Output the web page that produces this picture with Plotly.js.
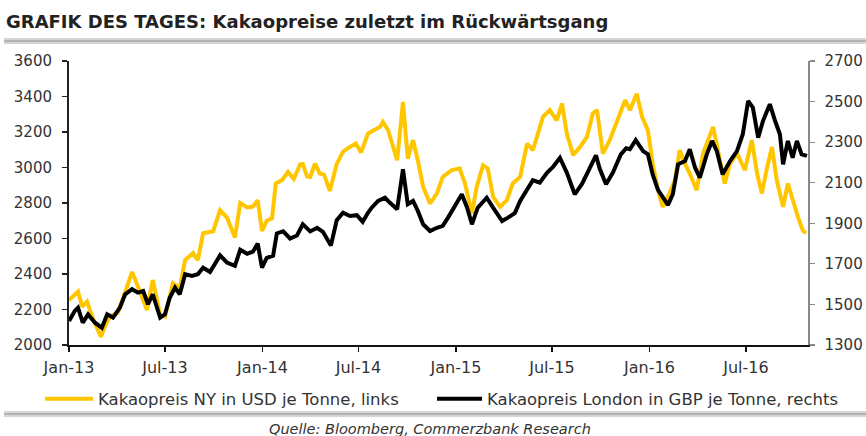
<!DOCTYPE html>
<html>
<head>
<meta charset="utf-8">
<script src="https://cdn.plot.ly/plotly-3.0.1.min.js"></script>
<style>html,body{margin:0;padding:0;background:#fff;}#chart{width:866px;height:436px;}</style>
</head>
<body>
<div id="chart"></div>
<script>
// --- data ---
const titleText = "GRAFIK DES TAGES: Kakaopreise zuletzt im Rückwärtsgang";
const sourceText = "Quelle: Bloomberg, Commerzbank Research";
const nyName = "Kakaopreis NY in USD je Tonne, links";
const ldnName = "Kakaopreis London in GBP je Tonne, rechts";

const nyDates = ['2013-01-01','2013-01-07','2013-01-18','2013-01-26','2013-02-04','2013-02-15','2013-03-02','2013-03-12','2013-03-19','2013-04-03','2013-04-17','2013-04-30','2013-05-15','2013-05-28','2013-06-08','2013-06-22','2013-07-01','2013-07-16','2013-07-29','2013-08-08','2013-08-23','2013-09-01','2013-09-11','2013-09-30','2013-10-13','2013-10-26','2013-11-10','2013-11-20','2013-12-03','2013-12-14','2013-12-23','2013-12-31','2014-01-09','2014-01-19','2014-01-26','2014-02-07','2014-02-18','2014-03-01','2014-03-13','2014-03-18','2014-03-26','2014-04-01','2014-04-10','2014-04-19','2014-04-27','2014-05-08','2014-05-21','2014-06-02','2014-06-15','2014-06-26','2014-07-06','2014-07-19','2014-07-30','2014-08-11','2014-08-16','2014-08-26','2014-09-12','2014-09-23','2014-10-02','2014-10-12','2014-10-21','2014-10-31','2014-11-13','2014-11-26','2014-12-07','2014-12-24','2015-01-08','2015-01-18','2015-01-31','2015-02-09','2015-02-21','2015-03-02','2015-03-12','2015-03-25','2015-04-07','2015-04-18','2015-05-02','2015-05-15','2015-05-26','2015-06-14','2015-06-27','2015-07-10','2015-07-20','2015-07-29','2015-08-10','2015-08-23','2015-09-05','2015-09-16','2015-09-24','2015-10-05','2015-10-18','2015-11-01','2015-11-16','2015-11-25','2015-12-08','2015-12-18','2015-12-29','2016-01-07','2016-01-17','2016-01-26','2016-02-05','2016-02-18','2016-02-27','2016-03-08','2016-03-17','2016-03-30','2016-04-11','2016-04-30','2016-05-09','2016-05-22','2016-06-01','2016-06-14','2016-06-29','2016-07-12','2016-07-22','2016-07-31','2016-08-10','2016-08-19','2016-08-28','2016-09-09','2016-09-18','2016-09-27','2016-10-07','2016-10-16','2016-10-22'];
const nyValues = [2253,2270,2300,2216,2244,2150,2047,2120,2160,2180,2293,2412,2300,2197,2366,2169,2160,2349,2321,2478,2518,2478,2630,2641,2760,2718,2606,2800,2775,2780,2816,2643,2700,2713,2910,2929,2975,2935,3018,3020,2950,2947,3022,2966,2960,2868,3020,3090,3116,3135,3085,3191,3210,3229,3257,3210,3041,3369,3050,3154,3041,2891,2797,2854,2947,2985,2994,2910,2741,2891,3013,2994,2835,2778,2816,2910,2947,3135,3097,3285,3323,3266,3360,3191,3070,3116,3172,3304,3323,3079,3154,3266,3379,3323,3416,3285,3210,3022,2872,2778,2835,2929,3097,3022,2966,2872,3079,3229,3097,2910,3022,3079,2985,3154,2966,2854,3003,3116,2929,2778,2910,2816,2722,2647,2629];

const ldnDates = ['2013-01-01','2013-01-12','2013-01-18','2013-01-27','2013-02-06','2013-02-19','2013-03-04','2013-03-14','2013-03-25','2013-04-07','2013-04-17','2013-04-30','2013-05-11','2013-05-21','2013-05-30','2013-06-08','2013-06-22','2013-07-01','2013-07-10','2013-07-20','2013-07-29','2013-08-08','2013-08-21','2013-09-01','2013-09-11','2013-09-24','2013-10-13','2013-10-26','2013-11-10','2013-11-20','2013-12-03','2013-12-14','2013-12-23','2013-12-31','2014-01-09','2014-01-21','2014-01-28','2014-02-09','2014-02-22','2014-03-07','2014-03-18','2014-04-01','2014-04-14','2014-04-25','2014-05-10','2014-05-21','2014-06-02','2014-06-15','2014-06-28','2014-07-09','2014-07-19','2014-07-26','2014-08-07','2014-08-20','2014-08-29','2014-09-12','2014-09-23','2014-10-02','2014-10-12','2014-10-21','2014-10-31','2014-11-13','2014-11-26','2014-12-07','2014-12-17','2014-12-30','2015-01-12','2015-01-22','2015-01-31','2015-02-11','2015-02-28','2015-03-12','2015-03-29','2015-04-09','2015-04-22','2015-05-02','2015-05-15','2015-05-26','2015-06-08','2015-06-22','2015-07-03','2015-07-16','2015-07-29','2015-08-13','2015-08-27','2015-09-11','2015-09-22','2015-09-29','2015-10-11','2015-10-24','2015-11-08','2015-11-18','2015-11-25','2015-12-06','2015-12-20','2015-12-29','2016-01-07','2016-01-17','2016-01-26','2016-02-05','2016-02-14','2016-02-24','2016-03-08','2016-03-17','2016-03-27','2016-04-05','2016-04-18','2016-04-28','2016-05-07','2016-05-18','2016-06-01','2016-06-14','2016-06-25','2016-07-05','2016-07-14','2016-07-24','2016-08-02','2016-08-15','2016-08-25','2016-09-03','2016-09-09','2016-09-18','2016-09-27','2016-10-05','2016-10-14','2016-10-24'];
const ldnValues = [1418,1468,1484,1410,1451,1410,1385,1451,1435,1484,1550,1575,1558,1566,1501,1550,1435,1451,1533,1583,1550,1649,1641,1649,1681,1660,1742,1706,1690,1770,1750,1760,1800,1681,1730,1740,1850,1860,1825,1840,1895,1860,1878,1858,1790,1915,1952,1936,1940,1907,1952,1977,2010,2026,2002,1969,2166,1994,2010,1961,1895,1862,1878,1887,1928,1985,2043,1977,1895,1977,2026,1977,1911,1928,1950,2010,2070,2112,2100,2150,2178,2223,2150,2043,2095,2180,2235,2170,2092,2150,2240,2270,2265,2310,2256,2240,2141,2065,2030,1990,2043,2191,2207,2265,2174,2125,2240,2306,2256,2141,2207,2256,2339,2503,2470,2322,2404,2487,2404,2339,2191,2306,2223,2306,2240,2232];

const xRange = ['2013-01-01','2016-10-26'];
const leftRange = [2000, 3600];
const rightRange = [1300, 2700];

// --- layout helpers (pixel -> paper) ---
const W = 866, H = 436;
const M = {l: 69, r: 58, t: 61, b: 91};
const PW = W - M.l - M.r, PH = H - M.t - M.b;
const px = v => (v - M.l) / PW;
const py = v => (H - M.b - v) / PH;

const FONT = "DejaVu Sans";
const TXT = "#333333";

const traces = [
  {x: nyDates, y: nyValues, name: nyName, type: 'scatter', mode: 'lines',
   line: {color: '#FFC600', width: 4}, yaxis: 'y', legend: 'legend'},
  {x: ldnDates, y: ldnValues, name: ldnName, type: 'scatter', mode: 'lines',
   line: {color: '#000000', width: 4}, yaxis: 'y2', legend: 'legend2'}
];

const layout = {
  width: W, height: H,
  margin: M,
  paper_bgcolor: '#ffffff', plot_bgcolor: '#ffffff',
  font: {family: FONT, color: TXT, size: 15},
  showlegend: true,
  title: {text: titleText, x: 6 / W, xanchor: 'left', xref: 'container',
          y: 1 - 22 / H, yanchor: 'middle', yref: 'container',
          font: {family: FONT, size: 18, weight: 'bold', color: '#222222'}},
  xaxis: {type: 'date', range: xRange, tick0: '2013-01-01', dtick: 'M6', tickformat: '%b-%y',
          showgrid: false, zeroline: false, showline: true, linecolor: '#111', linewidth: 2,
          ticks: 'outside', ticklen: 5, tickwidth: 1.5, tickcolor: '#111',
          tickfont: {family: FONT, size: 16, color: TXT}, ticklabelstandoff: 2, fixedrange: true},
  yaxis: {range: leftRange, tick0: 2000, dtick: 200, showgrid: false, zeroline: false,
          showline: true, linecolor: '#222', linewidth: 2,
          ticks: 'outside', ticklen: 5, tickwidth: 1.5, tickcolor: '#222',
          tickfont: {family: FONT, size: 15, color: TXT}, ticklabelstandoff: 7, fixedrange: true},
  yaxis2: {range: rightRange, tick0: 1300, dtick: 200, overlaying: 'y', side: 'right', anchor: 'x',
           showgrid: false, zeroline: false, showline: true, linecolor: '#888', linewidth: 1.5,
           ticks: 'outside', ticklen: 5, tickwidth: 1.2, tickcolor: '#888',
           tickfont: {family: FONT, size: 15, color: TXT}, ticklabelstandoff: 7, fixedrange: true},
  legend: {x: px(40), y: py(399), xanchor: 'left', yanchor: 'middle', orientation: 'h',
           bgcolor: 'rgba(0,0,0,0)', borderwidth: 0, itemwidth: 48,
           font: {family: FONT, size: 16.5, color: TXT}},
  legend2: {x: px(432), y: py(399), xanchor: 'left', yanchor: 'middle', orientation: 'h',
           bgcolor: 'rgba(0,0,0,0)', borderwidth: 0, itemwidth: 45,
           font: {family: FONT, size: 16.5, color: TXT}},
  shapes: [
    {type: 'rect', xref: 'paper', yref: 'paper', x0: px(4), x1: px(866), y0: py(44), y1: py(38),
     fillcolor: '#d6d6d6', line: {width: 0}, layer: 'below'},
    {type: 'line', xref: 'paper', yref: 'paper', x0: px(4), x1: px(866), y0: py(41), y1: py(41),
     line: {color: '#b3b3b3', width: 2}, layer: 'below'},
    {type: 'rect', xref: 'paper', yref: 'paper', x0: px(4), x1: px(866), y0: py(417), y1: py(411),
     fillcolor: '#d6d6d6', line: {width: 0}, layer: 'below'},
    {type: 'line', xref: 'paper', yref: 'paper', x0: px(4), x1: px(866), y0: py(414), y1: py(414),
     line: {color: '#b3b3b3', width: 2}, layer: 'below'}
  ],
  annotations: [
    {text: sourceText, xref: 'paper', yref: 'paper', x: px(430), y: py(429),
     xanchor: 'center', yanchor: 'middle', showarrow: false,
     font: {family: FONT, size: 14.5, style: 'italic', color: TXT}}
  ]
};

Plotly.newPlot('chart', traces, layout, {staticPlot: true, displayModeBar: false});
</script>
</body>
</html>
